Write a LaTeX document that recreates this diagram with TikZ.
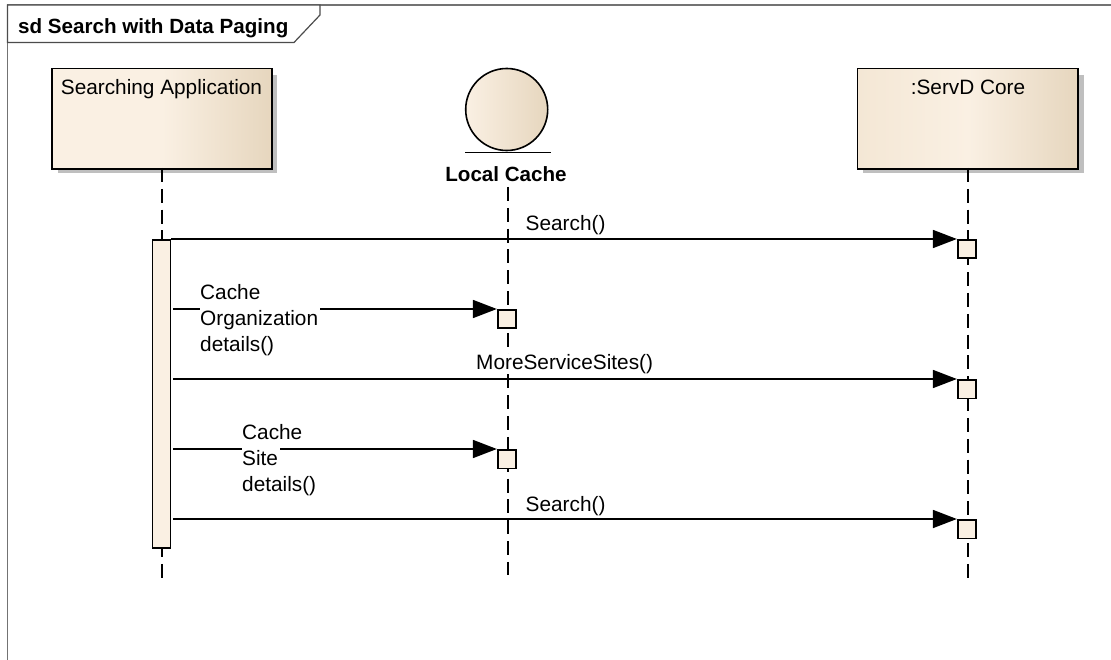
\documentclass[tikz,border=0pt]{standalone}
\usepackage{fontspec}
\setmainfont{Liberation Sans}
\usetikzlibrary{arrows.meta}
\definecolor{boxlight}{RGB}{250,240,227}
\definecolor{boxmid}{RGB}{244,231,213}
\definecolor{boxdark}{RGB}{230,214,190}
\newcommand{\maskline}[1]{{\setlength{\fboxsep}{0pt}\colorbox{white}{\rule{0pt}{20pt}#1\hspace{2pt}}}}
\tikzset{
  lifebox/.style={draw=black, line width=1.8pt, minimum height=98.5pt, inner sep=0pt},
  lifeline/.style={line width=1.9pt, dash pattern=on 14pt off 6.83pt},
  msg/.style={line width=1.8pt, -{Triangle[length=24pt,width=18pt]}},
  execbox/.style={draw=black, fill=boxlight, line width=1.8pt, minimum size=18.5pt, inner sep=0pt},
  msglabel/.style={inner sep=0pt, font=\fontsize{20.8pt}{26pt}\selectfont, align=left},
  boxlabel/.style={inner sep=0pt, font=\fontsize{20.8pt}{24pt}\selectfont},
  boldlabel/.style={inner sep=0pt, font=\bfseries\fontsize{20.6pt}{24pt}\selectfont}
}
\begin{document}
\begin{tikzpicture}[x=1pt,y=-1pt]
\useasboundingbox (0,0) rectangle (1111,660);
\fill[white] (0,0) rectangle (1111,660);
% frame
\draw[line width=1.2pt, black!55] (7.5,660) -- (7.5,5) -- (1111,5);
\draw[line width=1.2pt, black!70, fill=white] (7.5,5) -- (320,5) -- (320,15) -- (294,42.5) -- (7.5,42.5) -- cycle;
\node[boldlabel, anchor=base west] (title) at (18,34) {sd Search with Data Paging};
% shadows
\fill[black!25] (58,75) rectangle (277,173.5);
\fill[black!25] (863,75) rectangle (1083.5,173.5);
% boxes
\node[lifebox, minimum width=218pt, anchor=north west] (app) at (52,68.5) {};
\shade[left color=boxlight, right color=boxlight] (app.north west) rectangle (app.south);
\shade[left color=boxlight, right color=boxdark] (app.north) rectangle (app.south east);
\draw[line width=1.8pt] (app.north west) rectangle (app.south east);
\node[boxlabel, anchor=base] (applabel) at (161.5,95) {Searching Application};
\node[lifebox, minimum width=219pt, anchor=north west] (core) at (857.5,68.5) {};
\shade[left color=boxmid, right color=boxlight] (core.north west) rectangle (core.south);
\shade[left color=boxlight, right color=boxdark] (core.north) rectangle (core.south east);
\draw[line width=1.8pt] (core.north west) rectangle (core.south east);
\node[boxlabel, anchor=base] (corelabel) at (968,95) {:ServD Core};
% entity
\node[circle, minimum size=82pt, inner sep=0pt] (cache) at (506.7,109.5) {};
\shade[left color=boxlight, right color=boxdark] (cache) circle (41pt);
\draw[line width=1.6pt] (cache) circle (41pt);
\coordinate (cacheL) at (465,152.5);
\coordinate (cacheR) at (551,152.5);
\draw[line width=1.6pt] (cacheL) -- (cacheR);
\node[boldlabel, anchor=base] (cachelabel) at (506,182) {Local Cache};
% lifelines
\coordinate (appstart) at (162,168);
\coordinate (append) at (162,578);
\coordinate (cachestart) at (508,187);
\coordinate (cacheend) at (508,575);
\coordinate (corestart) at (968,168);
\coordinate (coreend) at (968,578);
\draw[lifeline] (appstart) -- (append);
\draw[lifeline] (cachestart) -- (cacheend);
\draw[lifeline] (corestart) -- (coreend);
% activation
\node[draw=black, fill=boxlight, line width=1.8pt, minimum width=18pt, minimum height=308pt, inner sep=0pt, anchor=north] (active) at (161.5,239) {};
% exec boxes
\node[execbox, anchor=north] (core1) at (967,239) {};
\node[execbox, anchor=north] (core2) at (967,379) {};
\node[execbox, anchor=north] (core3) at (967,519) {};
\node[execbox, anchor=north] (cache1) at (507,309) {};
\node[execbox, anchor=north] (cache2) at (507,449) {};
% messages
\coordinate (m1) at (active.north east |- core1.north);
\coordinate (m2) at ([xshift=2pt]active.east |- cache1.north);
\coordinate (m3) at ([xshift=2pt]active.east |- core2.north);
\coordinate (m4) at ([xshift=2pt]active.east |- cache2.north);
\coordinate (m5) at ([xshift=2pt]active.east |- core3.north);
\draw[msg] (m1) -- (core1.north west);
\draw[msg] (m2) -- (cache1.north west);
\draw[msg] (m3) -- (core2.north west);
\draw[msg] (m4) -- (cache2.north west);
\draw[msg] (m5) -- (core3.north west);
% labels
\node[msglabel, anchor=base west] (search1) at (525.5,231) {Search()};
\node[msglabel, anchor=north west] (orglabel) at (200,279.5) {\maskline{Cache}\\\maskline{Organization}\\\maskline{details()}};
\node[msglabel, fill=white, anchor=base west] (morelabel) at (476,369.5) {MoreServiceSites()};
\node[msglabel, anchor=north west] (sitelabel) at (242,419.5) {\maskline{Cache}\\\maskline{Site}\\\maskline{details()}};
\node[msglabel, anchor=base west] (search2) at (525.5,511) {Search()};
\end{tikzpicture}
\end{document}
